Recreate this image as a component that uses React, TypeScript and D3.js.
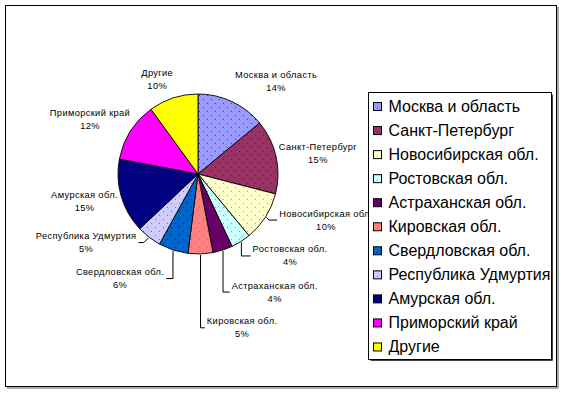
import React, { useEffect, useRef } from "react";
import * as d3 from "d3";

// Chart data
const categories = [
  "Москва и область",
  "Санкт-Петербург",
  "Новосибирская обл.",
  "Ростовская обл.",
  "Астраханская обл.",
  "Кировская обл.",
  "Свердловская обл.",
  "Республика Удмуртия",
  "Амурская обл.",
  "Приморский край",
  "Другие",
];
const shares = [14, 15, 10, 4, 4, 5, 6, 5, 15, 12, 10];

// Excel-like palette
const colors = [
  "#9999FF",
  "#993366",
  "#FFFFCC",
  "#CCFFFF",
  "#660066",
  "#FF8080",
  "#0066CC",
  "#CCCCFF",
  "#000080",
  "#FF00FF",
  "#FFFF00",
];
// dotted fills in the original (null = plain)
const dotColors = [
  "#3a3a80",
  "#5a1a3a",
  "#a0a080",
  "#80a0a0",
  null,
  "#ff5050",
  "#003366",
  "#7070a0",
  null,
  null,
  null,
];

// where each data label was dragged to: angle (deg, clockwise from 12) and distance in radii
const labelAngle = [40.3, 80.5, 109.8, 131.7, 147, 164, 216.7, 238.5, 256.4, 296.6, 336.7];
const labelDist = [1.51, 1.52, 1.7, 1.54, 1.76, 2.0, 1.63, 1.64, 1.46, 1.51, 1.29];

const W = 563;
const H = 393;

export default function App() {
  const svgRef = useRef<SVGSVGElement>(null);

  useEffect(() => {
    const svg = d3.select(svgRef.current);
    svg.selectAll("*").remove();

    const cx = 198;
    const cy = 174;
    const r = 80;

    const defs = svg.append("defs");
    colors.forEach((c, i) => {
      const d = dotColors[i];
      if (!d) return;
      const p = defs
        .append("pattern")
        .attr("id", `pat${i}`)
        .attr("width", 8)
        .attr("height", 8)
        .attr("patternUnits", "userSpaceOnUse");
      p.append("rect").attr("width", 8).attr("height", 8).attr("fill", c);
      p.append("rect").attr("x", 1).attr("y", 1).attr("width", 1).attr("height", 1).attr("fill", d);
      p.append("rect").attr("x", 5).attr("y", 5).attr("width", 1).attr("height", 1).attr("fill", d);
    });
    const fillOf = (i: number) => (dotColors[i] ? `url(#pat${i})` : colors[i]);

    // outer chart area with shadow
    svg
      .append("path")
      .attr("d", `M558,7V388H7`)
      .attr("fill", "none")
      .attr("stroke", "#555")
      .attr("stroke-width", 1);
    svg
      .append("rect")
      .attr("x", 5.5)
      .attr("y", 5.5)
      .attr("width", 551)
      .attr("height", 381)
      .attr("fill", "#fff")
      .attr("stroke", "#000")
      .attr("stroke-width", 1);

    const pie = d3
      .pie<number>()
      .sort(null)
      .value((d) => d);
    const arcs = pie(shares);
    const arc = d3.arc<d3.PieArcDatum<number>>().innerRadius(0).outerRadius(r);

    const g = svg.append("g").attr("transform", `translate(${cx},${cy})`);
    g.selectAll("path")
      .data(arcs)
      .enter()
      .append("path")
      .attr("d", arc)
      .attr("fill", (_, i) => fillOf(i))
      .attr("stroke", "#000")
      .attr("stroke-width", 0.9)
      .attr("stroke-linejoin", "round");

    // data labels
    const labelFont = "'Liberation Sans', Arial, sans-serif";
    arcs.forEach((a, i) => {
      const ang = (labelAngle[i] * Math.PI) / 180;
      const lx = Math.sin(ang) * r * labelDist[i];
      const ly = -Math.cos(ang) * r * labelDist[i];
      const lg = g.append("g");
      const t1 = lg
        .append("text")
        .attr("x", lx)
        .attr("y", ly - 6.5)
        .attr("text-anchor", "middle")
        .attr("dominant-baseline", "central")
        .attr("font-family", labelFont)
        .attr("font-size", 9.3)
        .attr("letter-spacing", 0.35)
        .attr("fill", "#000")
        .text(categories[i]);
      lg.append("text")
        .attr("x", lx)
        .attr("y", ly + 6.5)
        .attr("text-anchor", "middle")
        .attr("dominant-baseline", "central")
        .attr("font-family", labelFont)
        .attr("font-size", 9.3)
        .attr("letter-spacing", 0.35)
        .attr("fill", "#000")
        .text(`${shares[i]}%`);

      if (labelDist[i] > 1.53) {
        const mid = (a.startAngle + a.endAngle) / 2;
        const px = Math.sin(mid) * (r + 1);
        const py = -Math.cos(mid) * (r + 1);
        const halfW = ((t1.node() as SVGTextElement).getComputedTextLength() || 80) / 2;
        const s = lx > px ? 1 : -1;
        const ex = lx - s * (halfW + 2);
        const dy = Math.abs(ly - py);
        const elbowX = dy > 12 ? px : px + s * dy;
        g.append("path")
          .attr("d", `M${px},${py}L${elbowX},${ly}L${ex},${ly}`)
          .attr("fill", "none")
          .attr("stroke", "#000")
          .attr("stroke-width", 1);
      }
    });

    // legend
    const lgX = 368.5;
    const lgY = 92.5;
    const lgW = 183;
    const lgH = 267;
    svg
      .append("path")
      .attr("d", `M${lgX + lgW + 1},${lgY + 2}V${lgY + lgH + 1}H${lgX + 2}`)
      .attr("fill", "none")
      .attr("stroke", "#444")
      .attr("stroke-width", 1);
    svg
      .append("rect")
      .attr("x", lgX)
      .attr("y", lgY)
      .attr("width", lgW)
      .attr("height", lgH)
      .attr("fill", "#fff")
      .attr("stroke", "#000")
      .attr("stroke-width", 1);

    const ly = d3
      .scaleBand<string>()
      .domain(categories)
      .range([lgY + 2, lgY + lgH - 0.5]);

    const items = svg
      .append("g")
      .selectAll("g")
      .data(categories)
      .enter()
      .append("g")
      .attr("transform", (d) => `translate(0,${(ly(d) ?? 0) + ly.bandwidth() / 2})`);
    items
      .append("rect")
      .attr("x", 373.5)
      .attr("y", -4)
      .attr("width", 8)
      .attr("height", 8)
      .attr("fill", (_, i) => fillOf(i))
      .attr("stroke", "#000")
      .attr("stroke-width", 1);
    items
      .append("text")
      .attr("x", 388.5)
      .attr("y", 0)
      .attr("dominant-baseline", "central")
      .attr("font-family", labelFont)
      .attr("font-size", 16)
      .attr("fill", "#000")
      .text((d) => d);
  }, []);

  return (
    <svg
      ref={svgRef}
      width={W}
      height={H}
      style={{ position: "absolute", left: 0, top: 0, background: "#fff" }}
    />
  );
}
